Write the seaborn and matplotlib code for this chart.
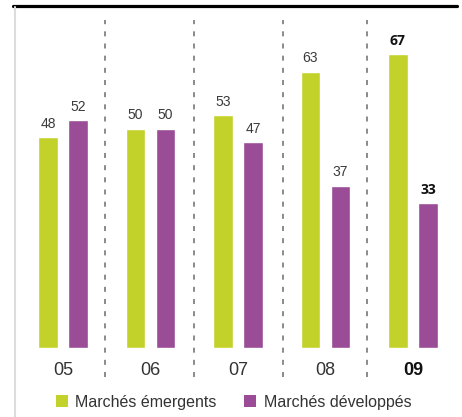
import matplotlib
matplotlib.use("Agg")
import matplotlib.pyplot as plt
import seaborn as sns
import pandas as pd
from matplotlib.patches import Patch

years = ["05", "06", "07", "08", "09"]
emergents = [48, 50, 53, 63, 67]
developpes = [52, 50, 47, 37, 33]
series = ["Marchés émergents", "Marchés développés"]
colors = ["#c3d22b", "#9a4c96"]

df = pd.DataFrame({
    "year": years * 2,
    "value": emergents + developpes,
    "series": [series[0]] * len(years) + [series[1]] * len(years),
})

sns.set_theme(style="white")
plt.rcParams["font.family"] = ["Liberation Sans", "DejaVu Sans"]

fig = plt.figure(figsize=(4.62, 4.17), dpi=100)
ax = fig.add_axes([0, 0, 1, 1])
sns.barplot(data=df, x="year", y="value", hue="series", palette=colors,
            width=0.686, gap=0.36, ax=ax, legend=False, saturation=1)

ax.set_xlim(-0.72, 4.56)
ax.set_ylim(-15.7, 79.3)
ax.axis("off")

# value labels
for ci, cont in enumerate(ax.containers):
    labels = ax.bar_label(cont, padding=4.5, fontsize=10, color="#3a3a3a")
    labels[-1].set_fontweight("bold")
    labels[-1].set_color("#111111")
    labels[-1].set_fontfamily(["Open Sans", "DejaVu Sans"])
    labels[-1].set_fontsize(10)

# category labels
for i, y in enumerate(years):
    last = i == len(years) - 1
    ax.text(i, -5.0, y, ha="center", va="center", fontsize=13,
            color="#111111" if last else "#333333",
            fontweight="bold" if last else "normal")

# separators
for s in [0.48, 1.5, 2.51, 3.47]:
    ax.plot([s, s], [-6.6, 74.7], color="#777777", lw=1.2,
            linestyle=(0, (3, 4.3)))

# top black rule and left gray rule (figure coords)
fig.add_artist(plt.Line2D([13 / 462, 457 / 462], [1 - 5.5 / 417] * 2,
                          color="black", lw=2.3, transform=fig.transFigure))
fig.add_artist(plt.Line2D([15 / 462] * 2, [0, 1 - 7 / 417],
                          color="#dcdcdc", lw=1.5, transform=fig.transFigure))

# legend
handles = [Patch(facecolor=c, edgecolor="none") for c in colors]
fig.legend(handles, series, loc="center left",
           bbox_to_anchor=(56 / 462, 1 - 402 / 417), ncol=2, frameon=False,
           fontsize=11.5, handlelength=0.75, handleheight=0.75,
           handletextpad=0.45, columnspacing=1.75, labelcolor="#333333",
           borderaxespad=0, borderpad=0)

fig.savefig("out.png", dpi=100)
